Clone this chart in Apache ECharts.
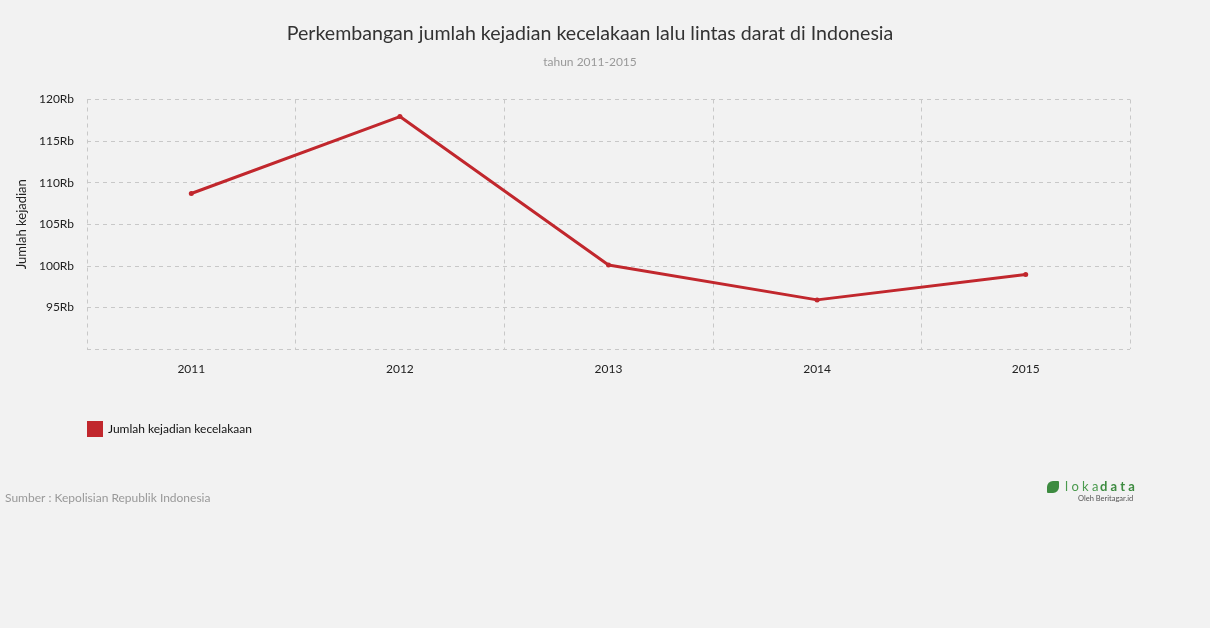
<!DOCTYPE html>
<html><head><meta charset="utf-8">
<script src="https://cdn.jsdelivr.net/npm/echarts@6/dist/echarts.min.js"></script>
<style>html,body{margin:0;padding:0;background:#f2f2f2}#c{width:1210px;height:628px}</style>
</head><body><div id="c"></div>
<script>
const categories = ['2011','2012','2013','2014','2015'];
const accidents = [108696, 117949, 100106, 95906, 98970];
const seriesName = 'Jumlah kejadian kecelakaan';
const chart = echarts.init(document.getElementById('c'));
const F = 'Lato, "Noto Sans", sans-serif';
chart.setOption({
  backgroundColor: '#f2f2f2',
  animation: false,
  title: [
    {text: 'Perkembangan jumlah kejadian kecelakaan lalu lintas darat di Indonesia', left: 585, textAlign: 'center', top: 19,
     textStyle: {fontFamily: F, fontSize: 19.6, fontWeight: 'normal', color: '#333'}},
    {text: 'tahun 2011-2015', left: 585, textAlign: 'center', top: 51,
     textStyle: {fontFamily: F, fontSize: 12, fontWeight: 'normal', color: '#999'}}
  ],
  legend: {left: 82, top: 416, itemWidth: 16, itemHeight: 16, itemGap: 10, icon: 'rect',
    textStyle: {fontFamily: F, fontSize: 12, color: '#111'}, data: [seriesName]},
  grid: {left: 87, right: 80, top: 99.5, bottom: 279, containLabel: false},
  xAxis: {type: 'category', data: categories, boundaryGap: true,
    axisLine: {show: false}, axisTick: {show: false},
    axisLabel: {fontFamily: F, fontSize: 12, color: '#222', margin: 14},
    splitLine: {show: true, interval: 0, lineStyle: {color: '#c8c8c8', type: [4,4], width: 1}}},
  yAxis: {type: 'value', min: 90000, max: 120000, interval: 5000,
    name: 'Jumlah kejadian', nameLocation: 'middle', nameGap: 57, nameRotate: 90,
    nameTextStyle: {fontFamily: F, fontSize: 13, color: '#222'},
    axisLine: {show: false}, axisTick: {show: false},
    axisLabel: {fontFamily: F, fontSize: 12, color: '#222', margin: 13, showMinLabel: false,
      formatter: v => (v/1000) + 'Rb'},
    splitLine: {show: true, lineStyle: {color: '#c8c8c8', type: [4,4], width: 1}}},
  series: [{name: seriesName, type: 'line', data: accidents, color: '#c1272d',
    lineStyle: {width: 3, color: '#c1272d'}, symbol: 'circle', symbolSize: 5,
    itemStyle: {color: '#c1272d'}}],
  graphic: [
    {type: 'text', left: 5, top: 492, style: {text: 'Sumber : Kepolisian Republik Indonesia', fontFamily: F, fontSize: 12, fill: '#999'}},
    {type: 'rect', shape: {x: 1047, y: 481, width: 12, height: 12, r: [6,1,6,1]}, style: {fill: '#3d8b40'}},
    {type: 'text', x: 1065, y: 480, style: {text: 'l o k a', fontFamily: F, fontSize: 13, fill: '#4a9a4d'}},
    {type: 'text', x: 1100, y: 480, style: {text: 'd a t a', fontFamily: F, fontSize: 13, fontWeight: 'bold', fill: '#3d8b40'}},
    {type: 'text', x: 1078, y: 495, style: {text: 'Oleh Beritagar.id', fontFamily: F, fontSize: 7.5, fill: '#555'}}
  ]
});
</script></body></html>
